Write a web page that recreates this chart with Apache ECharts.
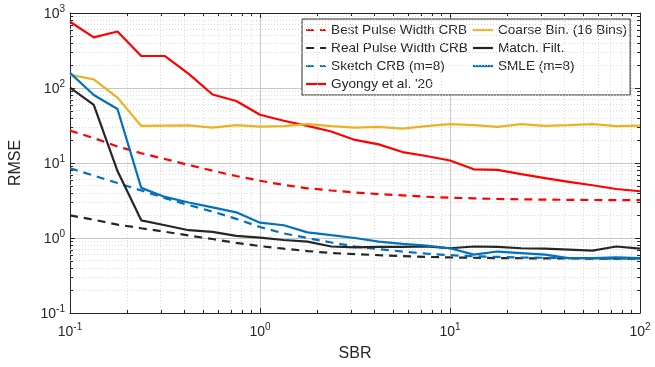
<!DOCTYPE html>
<html><head><meta charset="utf-8">
<script src="https://cdn.jsdelivr.net/npm/echarts@6/dist/echarts.min.js"></script>
<style>html,body{margin:0;padding:0;background:#fff}#c{width:655px;height:367px}</style>
</head><body><div id="c"></div>
<script>
const sbr = [0.1, 0.1334, 0.1778, 0.2371, 0.3162, 0.4217, 0.5623, 0.7499, 1, 1.334, 1.778, 2.371, 3.162, 4.217, 5.623, 7.499, 10, 13.34, 17.78, 23.71, 31.62, 42.17, 56.23, 74.99, 100];
const bestCRB   = [27, 21.5, 16.6, 13.5, 11.3, 9.4, 7.9, 6.7, 5.8, 5.1, 4.6, 4.3, 4.05, 3.85, 3.7, 3.55, 3.45, 3.38, 3.32, 3.28, 3.25, 3.23, 3.21, 3.2, 3.19];
const realCRB   = [2.0, 1.75, 1.51, 1.35, 1.21, 1.08, 0.97, 0.86, 0.78, 0.72, 0.67, 0.63, 0.61, 0.59, 0.575, 0.56, 0.55, 0.545, 0.54, 0.537, 0.535, 0.533, 0.532, 0.531, 0.53];
const sketchCRB = [8.5, 6.8, 5.4, 4.3, 3.4, 2.75, 2.25, 1.8, 1.4, 1.15, 1.0, 0.87, 0.77, 0.71, 0.66, 0.62, 0.59, 0.57, 0.56, 0.55, 0.545, 0.54, 0.535, 0.53, 0.53];
const gyongy    = [764, 473, 566, 267, 267, 154, 82, 67, 44, 36.6, 31.2, 26.3, 20.3, 17.7, 14.0, 12.4, 10.8, 8.24, 8.1, 7.1, 6.3, 5.6, 5.05, 4.5, 4.2];
const coarse    = [150, 130, 74.5, 31.2, 31.5, 31.8, 29.7, 32, 30.6, 31, 32.9, 31, 29.7, 30.3, 28.8, 31, 32.9, 31.9, 30.3, 32.9, 31.3, 31.9, 32.9, 31, 31.5];
const matchFilt = [101, 59.7, 7.8, 1.72, 1.48, 1.27, 1.21, 1.07, 1.01, 0.94, 0.895, 0.77, 0.75, 0.76, 0.76, 0.77, 0.73, 0.77, 0.76, 0.73, 0.72, 0.70, 0.68, 0.77, 0.72];
const smle      = [159, 80.5, 52.5, 4.66, 3.53, 2.97, 2.56, 2.2, 1.6, 1.48, 1.19, 1.09, 1.0, 0.895, 0.835, 0.79, 0.73, 0.60, 0.66, 0.63, 0.60, 0.54, 0.54, 0.55, 0.54];

const xMin = 0.1, xMax = 100, yMin = 0.1, yMax = 1000;
const FONT = '"Liberation Sans", Arial, Helvetica, sans-serif';
const AX = '#262626';

function minorVals(lo, hi) {
  const out = [];
  for (let d = Math.round(Math.log10(lo)); d < Math.round(Math.log10(hi)); d++) {
    for (let m = 2; m <= 9; m++) out.push(m * Math.pow(10, d));
  }
  return out;
}
const xMinor = minorVals(xMin, xMax);
const yMinor = minorVals(yMin, yMax);

function lbl(v) {
  const e = Math.round(Math.log10(v));
  return '{b|10}{s|' + e + '}';
}
const rich = {
  b: {fontSize: 14, fontFamily: FONT, color: AX, verticalAlign: 'bottom'},
  s: {fontSize: 10, fontFamily: FONT, color: AX, verticalAlign: 'bottom', padding: [0, 0, 7, 0]}
};

const seriesDefs = [
  {name: 'Best Pulse Width CRB', data: bestCRB, color: '#FF0000', dash: [8, 6]},
  {name: 'Real Pulse Width CRB', data: realCRB, color: '#262626', dash: [8, 6]},
  {name: 'Sketch CRB (m=8)', data: sketchCRB, color: '#0072BD', dash: [8, 6]},
  {name: "Gyongy et al. '20", data: gyongy, color: '#FF0000', dash: 'solid'},
  {name: 'Coarse Bin. (16 Bins)', data: coarse, color: '#EDB120', dash: 'solid'},
  {name: 'Match. Filt.', data: matchFilt, color: '#262626', dash: 'solid'},
  {name: 'SMLE (m=8)', data: smle, color: '#0072BD', dash: 'solid'}
];

const series = [];
series.push({
  type: 'line', data: [], z: 1, silent: true,
  markLine: {
    silent: true, symbol: ['none', 'none'], animation: false,
    label: {show: false},
    lineStyle: {color: '#dadada', type: [1, 2], width: 1},
    data: xMinor.map(v => ({xAxis: v})).concat(yMinor.map(v => ({yAxis: v})))
  }
});
series.push({
  type: 'custom', z: 10, silent: true, animation: false,
  data: xMinor.map(v => [v, 1, 0]).concat(yMinor.map(v => [1, v, 1])),
  renderItem: function (params, api) {
    const cs = params.coordSys;
    const p = api.coord([api.value(0), api.value(1)]);
    const L = 3;
    const st = {stroke: AX, lineWidth: 1};
    if (api.value(2) === 0) {
      const x = Math.round(p[0]) + 0.5;
      return {type: 'group', children: [
        {type: 'line', shape: {x1: x, y1: cs.y + cs.height, x2: x, y2: cs.y + cs.height - L}, style: st},
        {type: 'line', shape: {x1: x, y1: cs.y, x2: x, y2: cs.y + L}, style: st}
      ]};
    } else {
      const y = Math.round(p[1]) + 0.5;
      return {type: 'group', children: [
        {type: 'line', shape: {x1: cs.x, y1: y, x2: cs.x + L, y2: y}, style: st},
        {type: 'line', shape: {x1: cs.x + cs.width, y1: y, x2: cs.x + cs.width - L, y2: y}, style: st}
      ]};
    }
  }
});
seriesDefs.forEach(d => {
  series.push({
    name: d.name, type: 'line', z: 5,
    data: sbr.map((x, i) => [x, d.data[i]]),
    symbol: 'none', showSymbol: false,
    color: d.color,
    itemStyle: {color: d.color},
    lineStyle: {color: d.color, width: 2.2, type: d.dash},
    animation: false
  });
});

const chart = echarts.init(document.getElementById('c'), null, {renderer: 'canvas'});
chart.setOption({
  backgroundColor: '#fff',
  animation: false,
  textStyle: {fontFamily: FONT},
  grid: {left: 65, right: 15, top: 13, bottom: 47, show: false},
  legend: {
    data: seriesDefs.map(d => d.name),
    orient: 'vertical', left: 302, top: 19, height: 68,
    padding: [4, 3, 4, 3], itemGap: 4,
    itemWidth: 20, itemHeight: 14,
    backgroundColor: '#fff', borderColor: AX, borderWidth: 1,
    textStyle: {fontSize: 13.6, fontFamily: FONT, color: AX},
    itemStyle: {opacity: 0},
    lineStyle: {width: 2.2}
  },
  xAxis: [{
    type: 'log', logBase: 10, min: xMin, max: xMax,
    name: 'SBR', nameLocation: 'middle', nameGap: 33,
    nameTextStyle: {fontSize: 16, fontFamily: FONT, color: AX},
    axisLine: {show: true, lineStyle: {color: AX, width: 1}},
    axisTick: {show: true, inside: true, length: 5, lineStyle: {color: AX}},
    axisLabel: {formatter: lbl, rich: rich, margin: 9},
    splitLine: {show: true, lineStyle: {color: '#c8c8c8', width: 1}}
  }, {
    type: 'log', logBase: 10, min: xMin, max: xMax, position: 'top',
    axisLine: {show: true, lineStyle: {color: AX, width: 1}},
    axisTick: {show: true, inside: true, length: 5, lineStyle: {color: AX}},
    axisLabel: {show: false}, splitLine: {show: false}
  }],
  yAxis: [{
    type: 'log', logBase: 10, min: yMin, max: yMax,
    name: 'RMSE', nameLocation: 'middle', nameGap: 46,
    nameTextStyle: {fontSize: 16, fontFamily: FONT, color: AX},
    axisLine: {show: true, lineStyle: {color: AX, width: 1}},
    axisTick: {show: true, inside: true, length: 5, lineStyle: {color: AX}},
    axisLabel: {formatter: lbl, rich: rich, margin: 5},
    splitLine: {show: true, lineStyle: {color: '#c8c8c8', width: 1}}
  }, {
    type: 'log', logBase: 10, min: yMin, max: yMax, position: 'right',
    axisLine: {show: true, lineStyle: {color: AX, width: 1}},
    axisTick: {show: true, inside: true, length: 5, lineStyle: {color: AX}},
    axisLabel: {show: false}, splitLine: {show: false}
  }],
  series: series
});
</script></body></html>
